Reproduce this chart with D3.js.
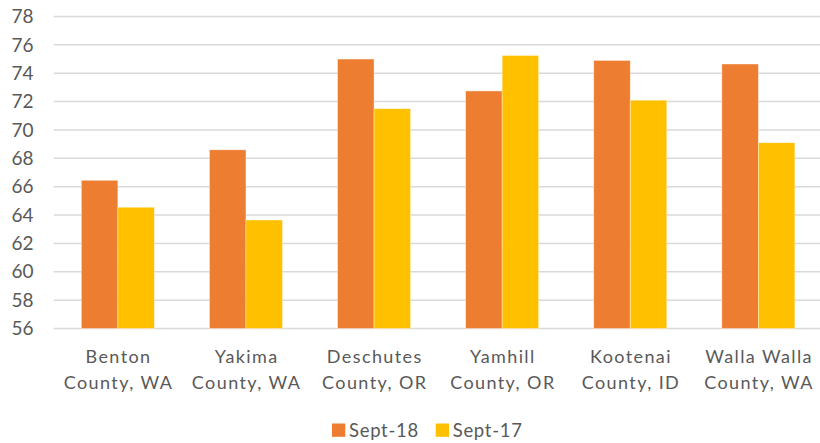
<!DOCTYPE html>
<html><head><meta charset="utf-8">
<script src="https://cdn.jsdelivr.net/npm/d3@7"></script>
<style>
html,body{margin:0;padding:0;background:#fff;}
svg text{font-family:Lato,"Liberation Sans",sans-serif;fill:#595959;}
</style></head>
<body>
<svg id="chart" width="820" height="443"></svg>
<script>
const categories = [["Benton","County, WA"],["Yakima","County, WA"],["Deschutes","County, OR"],["Yamhill","County, OR"],["Kootenai","County, ID"],["Walla Walla","County, WA"]];
const seriesNames = ["Sept-18","Sept-17"];
const sept18 = [66.45, 68.6, 75.0, 72.75, 74.9, 74.65];
const sept17 = [64.55, 63.65, 71.5, 75.25, 72.1, 69.1];
const yTicks = [56,58,60,62,64,66,68,70,72,74,76,78];
const colors = ["#ED7D31","#FFC000"];

(function(){
const svg = d3.select("#chart");
const pl = 53.8, pr = 822.4, pt = 16.5, pb = 328.5;
const keys = categories.map((c,i)=>i);
const x = d3.scaleBand().domain(keys).range([pl,pr]).paddingInner(0.43).paddingOuter(0.215);
const x1 = d3.scaleBand().domain([0,1]).range([0,x.bandwidth()]);
const y = d3.scaleLinear().domain([56,78]).range([pb,pt]);

svg.append("g").selectAll("line").data(yTicks).join("line")
  .attr("x1",pl).attr("x2",820).attr("y1",d=>y(d)).attr("y2",d=>y(d))
  .attr("stroke","#D9D9D9").attr("stroke-width",1.5);

svg.append("g").selectAll("text").data(yTicks).join("text")
  .attr("x",33.5).attr("y",d=>y(d)).attr("dy","0.35em").attr("text-anchor","end")
  .style("font-size","19px").text(d=>d);

const series = [sept18, sept17];
const g = svg.append("g");
series.forEach((vals,s)=>{
  g.append("g").selectAll("rect").data(vals).join("rect")
    .attr("x",(d,i)=>x(i)+x1(s)).attr("width",x1.bandwidth())
    .attr("y",d=>y(d)).attr("height",d=>y(56)-y(d))
    .attr("fill",colors[s]).attr("stroke","#fff").attr("stroke-opacity",0.5).attr("stroke-width",0.75);
});

const ls = 1.4;
const xl = svg.append("g").selectAll("text").data(categories).join("text")
  .attr("text-anchor","middle").style("font-size","18px").style("letter-spacing",ls+"px")
  .attr("transform",(d,i)=>`translate(${x(i)+x.bandwidth()/2+ls/2},0)`);
xl.append("tspan").attr("x",0).attr("y",363.3).text(d=>d[0]);
xl.append("tspan").attr("x",0).attr("y",389).text(d=>d[1]);

const legX = [332, 435.7];
const lg = svg.append("g").selectAll("g").data(seriesNames).join("g")
  .attr("transform",(d,i)=>`translate(${legX[i]},0)`);
lg.append("rect").attr("x",0).attr("y",423.5).attr("width",13.3).attr("height",13.3).attr("fill",(d,i)=>colors[i]);
lg.append("text").attr("x",17).attr("y",436.7).style("font-size","18.5px").style("letter-spacing","0.7px").text(d=>d);
})();
</script>
</body></html>
